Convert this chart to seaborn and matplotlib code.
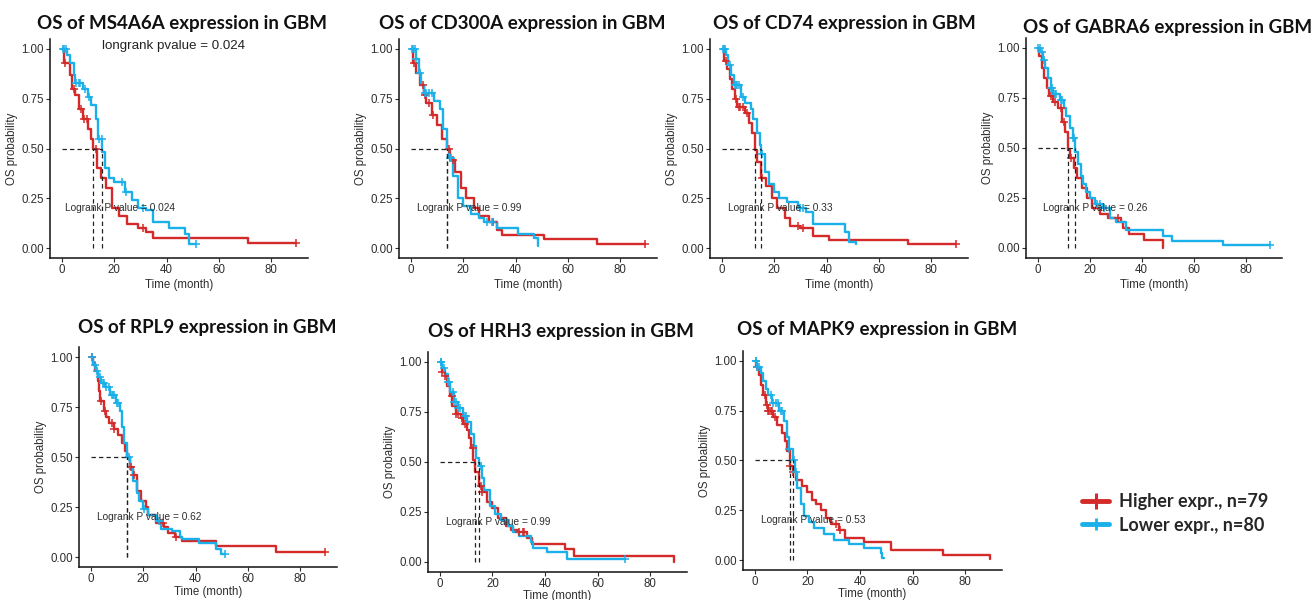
import numpy as np
import matplotlib
matplotlib.use("Agg")
import matplotlib.pyplot as plt
import seaborn as sns
from matplotlib.lines import Line2D

# ---------------- data ----------------
genes = ["MS4A6A", "CD300A", "CD74", "GABRA6", "RPL9", "HRH3", "MAPK9"]
pvalues = ["0.024", "0.99", "0.33", "0.26", "0.62", "0.99", "0.53"]
legend_labels = ["Higher expr., n=79", "Lower expr., n=80"]
x_ticks = [0, 20, 40, 60, 80]
y_ticks = [0.00, 0.25, 0.50, 0.75, 1.00]

# MS4A6A
ms4a6a_hi_t = [1, 3, 4, 5, 6.5, 8, 10, 11, 12, 13.5, 15, 17, 19, 22, 25, 29, 32, 35, 71, 89.5]
ms4a6a_hi_s = [0.93, 0.87, 0.80, 0.77, 0.70, 0.65, 0.60, 0.55, 0.50, 0.40, 0.35, 0.30, 0.20, 0.16, 0.12, 0.10, 0.08, 0.05, 0.025, 0.025]
ms4a6a_hi_c = [1.2, 4.5, 7.5, 8.5, 9.5, 13.0, 31.0, 89.5]
ms4a6a_lo_t = [2, 3, 4.5, 5, 8, 10, 11, 13, 14, 15.5, 16.5, 18, 20, 24, 27, 29, 32, 35, 41, 47, 48.5, 51.3]
ms4a6a_lo_s = [0.97, 0.93, 0.87, 0.83, 0.80, 0.76, 0.72, 0.65, 0.55, 0.48, 0.40, 0.35, 0.33, 0.28, 0.24, 0.20, 0.19, 0.13, 0.10, 0.07, 0.02, 0.02]
ms4a6a_lo_c = [0.5, 1.0, 1.5, 5.5, 6.5, 7.0, 9.0, 10.5, 14.3, 15.3, 23.0, 24.5, 31.0, 51.3]

# CD300A
cd300a_hi_t = [1, 2, 3.5, 5, 6, 8, 10, 12, 13.7, 15, 17, 19, 21, 24, 26, 30, 33, 35, 51, 71, 89.5]
cd300a_hi_s = [0.93, 0.88, 0.82, 0.77, 0.73, 0.67, 0.62, 0.55, 0.50, 0.44, 0.38, 0.30, 0.25, 0.20, 0.16, 0.13, 0.09, 0.065, 0.045, 0.02, 0.02]
cd300a_hi_c = [1.2, 4.5, 5.5, 7.0, 8.5, 14.5, 16.0, 31.5, 89.5]
cd300a_lo_t = [2, 3, 4, 5, 9, 11, 12.5, 13.7, 14.5, 16, 18, 20, 23, 26, 28, 33, 41, 47, 48.5, 48.7]
cd300a_lo_s = [0.95, 0.88, 0.82, 0.78, 0.74, 0.70, 0.60, 0.50, 0.45, 0.36, 0.25, 0.21, 0.17, 0.15, 0.13, 0.10, 0.07, 0.05, 0.01, 0.01]
cd300a_lo_c = [0.5, 1.0, 1.5, 2.0, 3.5, 5.5, 6.0, 7.0, 8.0, 14.8, 15.5, 29.0, 31.0]

# CD74
cd74_hi_t = [0.7, 2, 3, 4, 5, 6, 9, 10.5, 11.5, 12.8, 13.5, 15, 17, 19, 21, 24, 26, 30, 35, 41, 71, 89.5]
cd74_hi_s = [0.94, 0.90, 0.85, 0.80, 0.75, 0.71, 0.68, 0.63, 0.58, 0.49, 0.43, 0.35, 0.31, 0.25, 0.20, 0.15, 0.11, 0.10, 0.06, 0.04, 0.02, 0.02]
cd74_hi_c = [1.5, 5.5, 6.5, 7.0, 8.0, 9.5, 15.5, 29.0, 31.0, 89.5]
cd74_lo_t = [1.5, 2.5, 3.5, 4.5, 7.5, 9, 11, 12, 13.5, 14.5, 15.1, 16.5, 18, 20, 22, 25, 29, 32, 35, 47, 48.5, 51.3]
cd74_lo_s = [0.97, 0.92, 0.87, 0.82, 0.76, 0.73, 0.70, 0.65, 0.58, 0.52, 0.47, 0.38, 0.32, 0.28, 0.25, 0.23, 0.20, 0.18, 0.12, 0.08, 0.03, 0.02]
cd74_lo_c = [0.3, 0.8, 1.2, 3.0, 5.0, 5.5, 6.0, 6.5, 8.0, 15.5, 30.0, 31.0]

# GABRA6
gabra6_hi_t = [0.5, 1.5, 2.5, 3.5, 4.5, 6, 8, 9.5, 10.5, 11.8, 12.5, 14, 15, 17, 19, 21, 24, 27, 32, 33, 35, 41, 48.3]
gabra6_hi_s = [0.96, 0.90, 0.85, 0.80, 0.76, 0.73, 0.70, 0.63, 0.58, 0.49, 0.45, 0.40, 0.35, 0.30, 0.25, 0.20, 0.17, 0.15, 0.13, 0.10, 0.07, 0.04, 0.0]
gabra6_hi_c = [5.0, 6.5, 9.0, 10.0, 13.0, 31.0]
gabra6_lo_t = [1, 2, 3, 4, 5, 6, 8.5, 10, 11, 12.5, 13.5, 14.4, 15.5, 16.5, 17.5, 18.5, 20, 22, 25, 28, 30, 34, 48.3, 51.7, 71.4, 89.5]
gabra6_lo_s = [0.98, 0.94, 0.90, 0.85, 0.80, 0.77, 0.74, 0.70, 0.66, 0.60, 0.55, 0.48, 0.42, 0.36, 0.32, 0.28, 0.25, 0.22, 0.20, 0.15, 0.13, 0.09, 0.06, 0.035, 0.015, 0.015]
gabra6_lo_c = [0.3, 0.8, 1.5, 2.5, 5.0, 5.5, 6.5, 7.0, 9.0, 9.5, 13.5, 14.0, 23.0, 24.0, 25.5, 89.5]

# RPL9
rpl9_hi_t = [1, 1.8, 2.6, 3.2, 3.7, 4.9, 6, 6.8, 8.7, 10.5, 11.9, 13, 13.8, 15, 16, 17.5, 19, 21, 22, 25, 28, 29.5, 32, 35, 47.8, 70.8, 89.5]
rpl9_hi_s = [0.97, 0.93, 0.88, 0.83, 0.78, 0.73, 0.70, 0.67, 0.64, 0.61, 0.57, 0.53, 0.50, 0.45, 0.41, 0.33, 0.28, 0.25, 0.21, 0.17, 0.15, 0.12, 0.10, 0.08, 0.055, 0.025, 0.025]
rpl9_hi_c = [0.5, 4.0, 5.5, 8.0, 9.0, 15.5, 16.5, 27.5, 32.5, 89.5]
rpl9_lo_t = [1, 2, 2.8, 4, 5.6, 7.4, 9.7, 11, 11.9, 12.7, 13.8, 15, 16.3, 17.5, 18.5, 20, 22, 25, 27, 31, 34, 35, 41.5, 47.8, 49.7, 51.3]
rpl9_lo_s = [0.96, 0.93, 0.90, 0.87, 0.85, 0.81, 0.77, 0.73, 0.65, 0.57, 0.50, 0.44, 0.38, 0.32, 0.28, 0.24, 0.21, 0.18, 0.14, 0.13, 0.10, 0.09, 0.07, 0.04, 0.015, 0.015]
rpl9_lo_c = [0.5, 1.5, 2.5, 3.5, 4.5, 5.0, 6.0, 7.0, 8.0, 8.5, 9.0, 10.0, 10.5, 14.5, 20.5, 26.0, 51.3]

# HRH3
hrh3_hi_t = [0.7, 2, 2.8, 4, 4.8, 6, 7.9, 9, 10.3, 11, 11.7, 12.8, 13.3, 14.8, 16, 18, 20, 22, 25.1, 27, 29.9, 33.3, 35.2, 47.7, 51.1, 89.2]
hrh3_hi_s = [0.95, 0.93, 0.88, 0.83, 0.78, 0.74, 0.72, 0.69, 0.66, 0.62, 0.57, 0.51, 0.45, 0.38, 0.35, 0.30, 0.27, 0.22, 0.18, 0.16, 0.15, 0.12, 0.09, 0.065, 0.03, 0.0]
hrh3_hi_c = [1.0, 2.0, 4.5, 6.0, 7.0, 8.5, 9.5, 12.5, 15.5, 16.0, 30.0, 31.5, 32.0]
hrh3_lo_t = [1, 2, 3, 4, 5.5, 6.9, 9, 10.5, 11.7, 13, 13.8, 14.8, 16, 17, 19.1, 21, 23.2, 26, 28, 30.2, 34.5, 35.4, 40.8, 48.4, 70.4]
hrh3_lo_s = [0.97, 0.94, 0.90, 0.85, 0.80, 0.77, 0.73, 0.70, 0.64, 0.58, 0.52, 0.48, 0.42, 0.36, 0.28, 0.24, 0.21, 0.18, 0.15, 0.13, 0.10, 0.07, 0.05, 0.015, 0.015]
hrh3_lo_c = [0.3, 0.6, 1.5, 3.0, 3.5, 5.0, 5.5, 6.0, 7.0, 7.5, 9.5, 10.0, 15.5, 70.4]

# MAPK9
mapk9_hi_t = [0.5, 1.5, 2.4, 3.2, 4.1, 5, 7, 8.5, 10.5, 11.5, 12.4, 13.3, 14.5, 15.6, 18.1, 20, 21.6, 23.2, 25.1, 27, 29, 32.1, 34.3, 41.7, 51.9, 71.7, 89.5]
mapk9_hi_s = [0.97, 0.93, 0.88, 0.83, 0.78, 0.75, 0.72, 0.68, 0.64, 0.60, 0.55, 0.47, 0.44, 0.40, 0.37, 0.34, 0.30, 0.28, 0.25, 0.21, 0.18, 0.15, 0.11, 0.09, 0.05, 0.025, 0.005]
mapk9_hi_c = [1.0, 4.0, 4.5, 5.0, 5.5, 6.0, 6.5, 7.5, 13.5, 14.5, 31.0, 32.5]
mapk9_lo_t = [1, 2.2, 3, 4.1, 5, 6.6, 9.2, 11.1, 12.4, 13, 14.4, 15.3, 16.2, 17.5, 18.8, 20.7, 22.6, 26.4, 30.2, 36, 41.7, 47.8, 48.3, 49.1]
mapk9_lo_s = [0.97, 0.94, 0.90, 0.86, 0.83, 0.79, 0.75, 0.70, 0.62, 0.56, 0.50, 0.44, 0.36, 0.28, 0.22, 0.19, 0.16, 0.13, 0.10, 0.08, 0.06, 0.035, 0.01, 0.01]
mapk9_lo_c = [0.3, 0.6, 1.0, 1.5, 6.0, 7.0, 8.0, 9.0, 10.0, 10.5, 13.0, 14.8, 15.5]

curves = {
    "MS4A6A": ((ms4a6a_hi_t, ms4a6a_hi_s, ms4a6a_hi_c), (ms4a6a_lo_t, ms4a6a_lo_s, ms4a6a_lo_c)),
    "CD300A": ((cd300a_hi_t, cd300a_hi_s, cd300a_hi_c), (cd300a_lo_t, cd300a_lo_s, cd300a_lo_c)),
    "CD74": ((cd74_hi_t, cd74_hi_s, cd74_hi_c), (cd74_lo_t, cd74_lo_s, cd74_lo_c)),
    "GABRA6": ((gabra6_hi_t, gabra6_hi_s, gabra6_hi_c), (gabra6_lo_t, gabra6_lo_s, gabra6_lo_c)),
    "RPL9": ((rpl9_hi_t, rpl9_hi_s, rpl9_hi_c), (rpl9_lo_t, rpl9_lo_s, rpl9_lo_c)),
    "HRH3": ((hrh3_hi_t, hrh3_hi_s, hrh3_hi_c), (hrh3_lo_t, hrh3_lo_s, hrh3_lo_c)),
    "MAPK9": ((mapk9_hi_t, mapk9_hi_s, mapk9_hi_c), (mapk9_lo_t, mapk9_lo_s, mapk9_lo_c)),
}

# ---------------- layout (pixels) ----------------
W, H = 1314, 600
# left, right, top, bottom of each axes box; title centre; x-label pad
boxes = [(50, 308, 39, 258), (399, 657, 39, 258), (710, 968, 39, 258), (1026, 1282, 38, 258),
         (79, 337, 347, 567), (428, 687, 352, 572), (743, 1002, 351, 570)]
title_pos = [(182, 24), (522, 23), (844, 23), (1168, 27), (207, 328), (561, 332), (877, 330)]
xlabel_pads = [2.0, 2.0, 2.0, 2.0, 0.5, -0.5, 0.0]

RED = "#D42A2A"
BLUE = "#1AB0EA"
TXT = "#2E2E2E"

sns.set_theme(style="white")
plt.rcParams["font.family"] = ["Liberation Sans", "DejaVu Sans"]

fig = plt.figure(figsize=(W / 100, H / 100), dpi=100)
fig.patch.set_facecolor("white")


def surv_at(t, s, x):
    idx = np.searchsorted(np.asarray(t), x, side="right") - 1
    return 1.0 if idx < 0 else float(np.asarray(s)[idx])


def median(t, s):
    for ti, si in zip(t, s):
        if si <= 0.5:
            return ti
    return None


for gene, pv, (l, r, tp, bt), (tx, ty), xlp in zip(genes, pvalues, boxes, title_pos, xlabel_pads):
    ax = fig.add_axes([l / W, 1 - bt / H, (r - l) / W, (bt - tp) / H])
    meds = []
    for (t, s, c), col in zip(curves[gene], [RED, BLUE]):
        T = [0.0] + list(t)
        S = [1.0] + list(s)
        sns.lineplot(x=T, y=S, drawstyle="steps-post", color=col, linewidth=1.7,
                     estimator=None, sort=False, ax=ax)
        cy = [surv_at(t, s, ci) for ci in c]
        sns.scatterplot(x=c, y=cy, marker="+", s=38, color=col, linewidth=1.1, ax=ax, zorder=3)
        meds.append(median(t, s))
    # median lines
    ax.plot([0, max(meds)], [0.5, 0.5], ls=(0, (3.5, 2.5)), color="#222222", lw=0.9, zorder=4)
    for m in meds:
        ax.plot([m, m], [0, 0.5], ls=(0, (3.5, 2.5)), color="#222222", lw=0.9, zorder=4)
    ax.text(22.3, 0.2, f"Logrank P value = {pv}", ha="center", va="center", fontsize=7.3,
            color=TXT, zorder=5)

    ax.set_xlim(-4.475, 93.975)
    ax.set_ylim(-0.05, 1.05)
    ax.set_xticks(x_ticks)
    ax.set_yticks(y_ticks)
    ax.set_yticklabels([f"{v:.2f}" for v in y_ticks])
    ax.tick_params(axis="both", which="major", length=3, width=0.8, color=TXT,
                   labelsize=8.3, labelcolor=TXT, pad=1.5, direction="out",
                   bottom=True, left=True)
    for side in ["top", "right"]:
        ax.spines[side].set_visible(False)
    for side in ["left", "bottom"]:
        ax.spines[side].set_color("#111111")
        ax.spines[side].set_linewidth(1.1)
    ax.set_xlabel("Time (month)", fontsize=8.3, color=TXT, labelpad=xlp)
    ax.set_ylabel("OS probability", fontsize=8.3, color=TXT, labelpad=2.5)
    ax.grid(False)
    ax.set_facecolor("white")

    fig.text(tx / W, 1 - ty / H, f"OS of {gene} expression in GBM", ha="center", va="center",
             fontsize=13.5, fontweight="bold", family=["Lato", "DejaVu Sans"], color="#111111")

fig.text(173 / W, 1 - 46 / H, "longrank pvalue = 0.024", ha="center", va="center",
         fontsize=9.6, color="#222222")

handles = [Line2D([0], [0], color=RED, lw=3.5, marker="+", ms=11, mew=2.2),
           Line2D([0], [0], color=BLUE, lw=3.5, marker="+", ms=9, mew=2.0)]
fig.legend(handles, legend_labels, loc="upper left", bbox_to_anchor=(1066 / W, 1 - 477 / H),
           frameon=False, handlelength=1.5, handletextpad=0.55, labelspacing=0.35,
           prop={"family": ["Lato", "DejaVu Sans"], "weight": "bold", "size": 13})

fig.savefig("out.png", dpi=100, facecolor="white")
